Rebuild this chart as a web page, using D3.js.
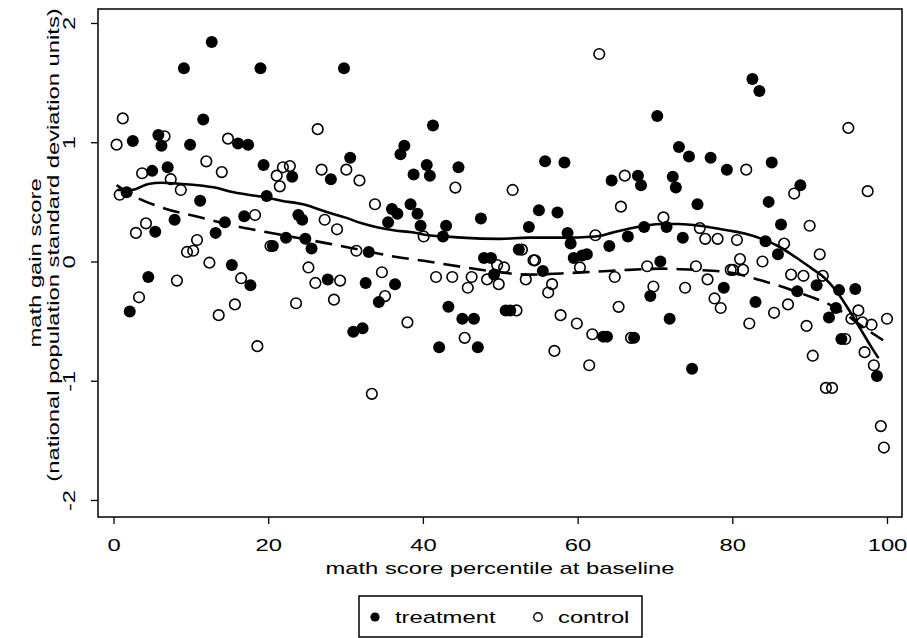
<!DOCTYPE html>
<html>
<head>
<meta charset="utf-8">
<script src="https://d3js.org/d3.v7.min.js"></script>
<style>
  body { margin: 0; background: #fff; }
  text { font-family: "Liberation Sans", Arial, Helvetica, sans-serif; font-size: 17px; fill: #000; }
  .axis .domain { display: none; }
  .axis line { stroke: #000; stroke-width: 1.3; }
</style>
</head>
<body>
<svg id="chart" width="907" height="638"></svg>
<script>
// percentile at baseline, gain score
const treatment = [
  [12.7,1.84],[9.1,1.62],[19.0,1.62],[11.6,1.19],[2.5,1.01],[5.8,1.06],[6.2,0.97],[9.9,0.98],
  [16.1,0.99],[17.4,0.98],[5.0,0.76],[7.0,0.79],[19.4,0.81],[23.1,0.71],[1.7,0.58],[11.2,0.51],
  [19.8,0.55],[7.9,0.35],[5.4,0.25],[14.4,0.33],[16.9,0.38],[23.9,0.39],[24.4,0.35],[13.2,0.24],
  [22.3,0.20],[24.8,0.19],[20.6,0.13],[15.3,-0.03],[4.5,-0.13],[17.7,-0.20],[2.1,-0.42],[25.6,0.11],
  [29.8,1.62],[41.3,1.14],[37.6,0.97],[37.1,0.90],[30.6,0.87],[28.1,0.69],[38.8,0.73],[40.5,0.81],
  [40.9,0.72],[44.6,0.79],[47.5,0.36],[36.0,0.44],[36.7,0.40],[35.5,0.33],[38.4,0.48],[39.3,0.40],
  [39.7,0.30],[43.0,0.30],[42.6,0.21],[33.0,0.08],[47.9,0.03],[48.8,0.03],
  [27.7,-0.15],[32.6,-0.18],[36.4,-0.19],[34.3,-0.34],[31.0,-0.59],[32.2,-0.56],[43.3,-0.38],
  [45.1,-0.48],[46.6,-0.48],[42.1,-0.72],[47.1,-0.72],[49.2,-0.11],
  [70.3,1.22],[73.1,0.96],[74.4,0.88],[55.8,0.84],[58.3,0.83],[64.4,0.68],[67.8,0.72],[68.2,0.64],
  [72.3,0.71],[72.7,0.62],[75.5,0.48],[55.0,0.43],[57.4,0.41],[53.7,0.29],[58.7,0.24],[59.1,0.15],
  [64.1,0.13],[66.5,0.21],[68.6,0.29],[71.5,0.29],[73.6,0.20],[52.4,0.10],[59.5,0.03],[60.6,0.05],
  [61.2,0.06],[70.7,0.00],[55.5,-0.08],
  [50.7,-0.41],[51.3,-0.41],[63.3,-0.63],[63.8,-0.63],[67.3,-0.64],[69.4,-0.29],[71.9,-0.48],[74.8,-0.90],
  [82.6,1.53],[83.5,1.43],[77.2,0.87],[79.3,0.77],[85.1,0.83],[88.8,0.64],[84.7,0.50],[86.3,0.31],
  [84.3,0.17],[85.9,0.06],
  [78.9,-0.22],[83.0,-0.34],[88.4,-0.25],[90.9,-0.20],[93.8,-0.24],[95.9,-0.23],[93.4,-0.39],
  [92.5,-0.47],[94.1,-0.65],[98.7,-0.96]
];

const control = [
  [1.2,1.20],[0.4,0.98],[6.6,1.05],[14.8,1.03],[12.0,0.84],[14.0,0.75],[3.7,0.74],[7.4,0.69],
  [8.7,0.60],[21.9,0.79],[22.8,0.80],[21.1,0.72],[21.5,0.63],[0.8,0.56],[18.3,0.39],[4.2,0.32],
  [2.9,0.24],[10.8,0.18],[9.5,0.08],[10.3,0.09],[12.4,-0.01],[20.3,0.13],[8.2,-0.16],[3.3,-0.30],
  [16.5,-0.14],[15.7,-0.36],[13.6,-0.45],[18.6,-0.71],[23.6,-0.35],
  [26.4,1.11],[26.9,0.77],[30.1,0.77],[31.8,0.68],[44.2,0.62],[33.8,0.48],[27.3,0.35],[28.9,0.27],
  [40.1,0.21],[31.4,0.09],[25.2,-0.05],[34.7,-0.09],[49.6,-0.03],
  [26.1,-0.18],[29.3,-0.16],[28.5,-0.32],[35.1,-0.29],[38.0,-0.51],[33.4,-1.11],[41.7,-0.13],
  [43.8,-0.13],[46.3,-0.13],[45.8,-0.22],[48.3,-0.15],[49.8,-0.19],[45.4,-0.64],
  [62.8,1.74],[51.6,0.60],[66.1,0.72],[65.6,0.46],[71.1,0.37],[62.3,0.22],[75.8,0.28],[52.8,0.10],
  [54.3,0.01],[54.5,0.01],[50.5,-0.05],[60.3,-0.05],[69.0,-0.04],[75.3,-0.04],
  [53.3,-0.15],[56.7,-0.19],[56.2,-0.26],[64.8,-0.13],[69.8,-0.21],[73.9,-0.22],[52.1,-0.41],
  [57.8,-0.45],[59.9,-0.52],[61.9,-0.61],[65.3,-0.38],[57.0,-0.75],[61.5,-0.87],[66.9,-0.64],
  [95.0,1.12],[81.8,0.77],[97.5,0.59],[88.0,0.57],[90.0,0.30],[76.5,0.19],[78.1,0.19],[80.6,0.18],
  [86.7,0.15],[91.3,0.06],[81.0,0.02],[83.9,0.00],
  [79.8,-0.07],[80.1,-0.07],[81.4,-0.07],[76.8,-0.15],[77.7,-0.31],[78.5,-0.39],[82.2,-0.52],
  [85.4,-0.43],[87.2,-0.36],[87.6,-0.11],[89.2,-0.12],[91.7,-0.12],[89.6,-0.54],[90.4,-0.79],
  [92.1,-1.06],[92.9,-1.06],[96.3,-0.41],[95.4,-0.48],[96.8,-0.51],[98.0,-0.53],[100.0,-0.48],
  [94.6,-0.65],[97.1,-0.76],[98.3,-0.87],[99.2,-1.38],[99.6,-1.56]
];

// smoothed fits
const treatFit = [
  [0.5,0.60],[2.3,0.60],[4.5,0.65],[6.2,0.66],[8.8,0.65],[10.9,0.64],[13.1,0.62],[15.2,0.585],
  [17.4,0.56],[19.5,0.54],[21.7,0.51],[24.5,0.48],[27.8,0.41],[29.9,0.37],[32.1,0.32],
  [34.2,0.285],[36.4,0.26],[38.6,0.245],[40.7,0.22],[42.9,0.21],[45.0,0.20],[50.0,0.19],[53.6,0.20],
  [57.9,0.20],[62.3,0.21],[64.4,0.24],[66.6,0.275],[68.7,0.30],[70.9,0.315],[73.0,0.315],[75.8,0.30],
  [77.3,0.285],[79.5,0.26],[81.6,0.235],[83.8,0.19],[85.9,0.13],[88.1,0.04],[90.3,-0.06],
  [91.6,-0.12],[93.7,-0.27],[95.4,-0.44],[96.7,-0.58],[98.0,-0.72],[98.9,-0.81]
];
const controlFit = [
  [0.4,0.64],[2.3,0.56],[6.6,0.445],[10.9,0.375],[15.2,0.305],[19.5,0.25],[24.5,0.19],[27.8,0.15],
  [32.1,0.095],[36.4,0.04],[40.7,0.00],[45.0,-0.045],[49.3,-0.085],[53.6,-0.11],[57.9,-0.10],
  [62.3,-0.085],[66.6,-0.07],[70.9,-0.06],[75.2,-0.07],[79.5,-0.09],[81.6,-0.12],[83.8,-0.16],
  [85.9,-0.20],[88.1,-0.25],[90.3,-0.30],[92.4,-0.355],[94.6,-0.44],[96.7,-0.54],[99.5,-0.66]
];

const xTicks = [0, 20, 40, 60, 80, 100];
const yTicks = [-2, -1, 0, 1, 2];

const svg = d3.select("svg#chart");
const frame = {left: 98, right: 902, top: 9, bottom: 517};
const stretch = "scale(1.4,1)";

const x = d3.scaleLinear().domain([0, 100]).range([113.5, 887]);
const y = d3.scaleLinear().domain([-2, 2]).range([500, 23]);

// plot frame
svg.append("rect")
    .attr("x", frame.left).attr("y", frame.top)
    .attr("width", frame.right - frame.left)
    .attr("height", frame.bottom - frame.top)
    .attr("fill", "none").attr("stroke", "#000").attr("stroke-width", 1.5);

// axes
let bottomAxis = d3.axisBottom(x).tickValues(xTicks).tickSize(7).tickSizeOuter(0)
    .tickFormat(d => String(d));
let gx = svg.append("g").attr("class", "axis")
    .attr("transform", `translate(0,${frame.bottom})`)
    .call(bottomAxis);
gx.selectAll("text")
    .attr("y", 34).attr("dy", null)
    .attr("transform", stretch);

let leftAxis = d3.axisLeft(y).tickValues(yTicks).tickSize(7).tickSizeOuter(0)
    .tickFormat(d => String(d));
let gy = svg.append("g").attr("class", "axis")
    .attr("transform", `translate(${frame.left},0)`)
    .call(leftAxis);
gy.selectAll("text")
    .attr("x", 0).attr("dy", null)
    .attr("text-anchor", "middle")
    .attr("transform", `translate(-23,0) rotate(-90) ${stretch}`);

// axis titles
svg.append("text")
    .attr("text-anchor", "middle")
    .attr("transform", `translate(500,574) ${stretch}`)
    .text("math score percentile at baseline");
svg.append("text")
    .attr("text-anchor", "middle")
    .attr("transform", `translate(41,263) rotate(-90) ${stretch}`)
    .text("math gain score");
svg.append("text")
    .attr("text-anchor", "middle")
    .attr("transform", `translate(59,245) rotate(-90) ${stretch}`)
    .text("(national population standard deviation units)");

// points
let plot = svg.append("g");
plot.selectAll("circle.control").data(control)
    .join("circle").attr("class", "control")
    .attr("cx", d => x(d[0])).attr("cy", d => y(d[1]))
    .attr("r", 5.3)
    .attr("fill", "none").attr("stroke", "#000").attr("stroke-width", 1.6);
plot.selectAll("circle.treatment").data(treatment)
    .join("circle").attr("class", "treatment")
    .attr("cx", d => x(d[0])).attr("cy", d => y(d[1]))
    .attr("r", 6).attr("fill", "#000");

// fitted lines
let lineGen = d3.line().x(d => x(d[0])).y(d => y(d[1])).curve(d3.curveMonotoneX);
plot.append("path").attr("d", lineGen(treatFit))
    .attr("fill", "none").attr("stroke", "#000").attr("stroke-width", 2.6);
plot.append("path").attr("d", lineGen(controlFit))
    .attr("fill", "none").attr("stroke", "#000").attr("stroke-width", 2.6)
    .attr("stroke-dasharray", "17,9");

// legend
let legend = svg.append("g");
legend.append("rect")
    .attr("x", 359).attr("y", 596).attr("width", 283).attr("height", 41)
    .attr("fill", "#fff").attr("stroke", "#000").attr("stroke-width", 1.5);
legend.append("circle").attr("cx", 375).attr("cy", 617).attr("r", 4.6).attr("fill", "#000");
legend.append("text").attr("transform", `translate(395,623) ${stretch}`).text("treatment");
legend.append("circle").attr("cx", 538).attr("cy", 617).attr("r", 4.2)
    .attr("fill", "none").attr("stroke", "#000").attr("stroke-width", 1.4);
legend.append("text").attr("transform", `translate(558,623) ${stretch}`).text("control");
</script>
</body>
</html>
